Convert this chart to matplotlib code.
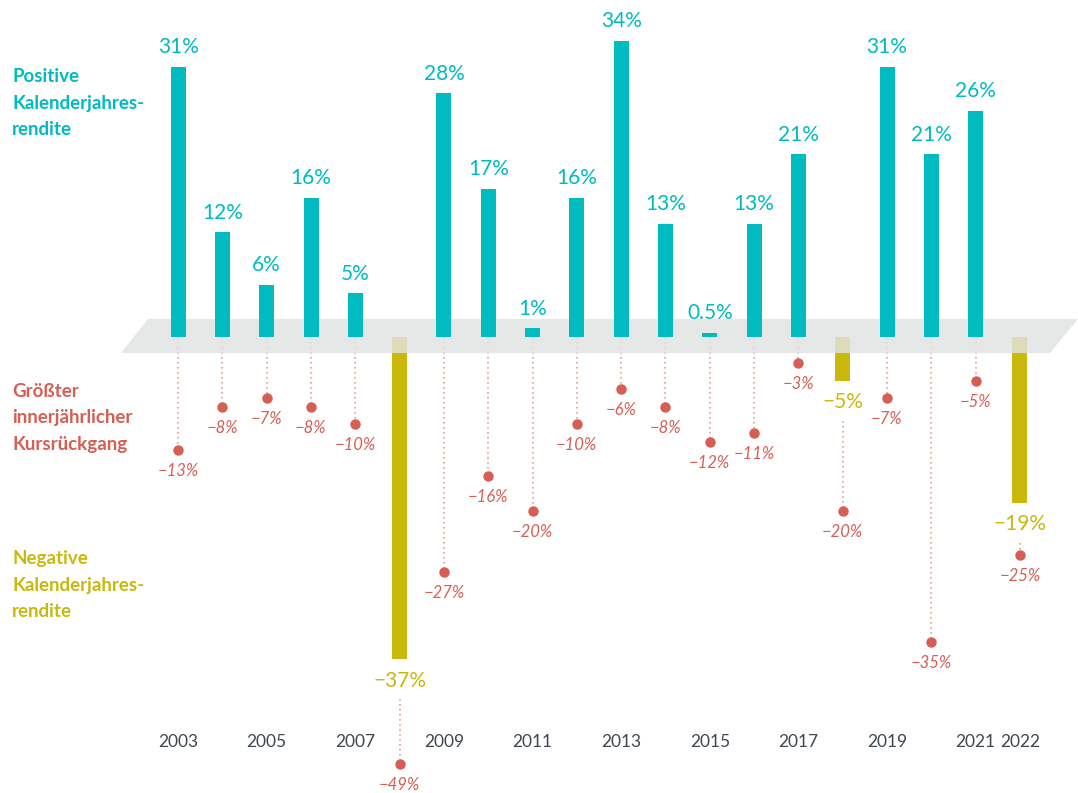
import matplotlib.pyplot as plt
from matplotlib.patches import Polygon

years = list(range(2003, 2023))
annual_return = [31, 12, 6, 16, 5, -37, 28, 17, 1, 16, 34, 13, 0.5, 13, 21, -5, 31, 21, 26, -19]
return_labels = ['31%', '12%', '6%', '16%', '5%', '\u221237%', '28%', '17%', '1%', '16%',
                 '34%', '13%', '0.5%', '13%', '21%', '\u22125%', '31%', '21%', '26%', '\u221219%']
max_drawdown = [-13, -8, -7, -8, -10, -49, -27, -16, -20, -10, -6, -8, -12, -11, -3, -20, -7, -35, -5, -25]
year_ticks = [2003, 2005, 2007, 2009, 2011, 2013, 2015, 2017, 2019, 2021, 2022]

teal = '#00BBBF'
olive = '#C8B90C'
red = '#D65F54'
dotted = '#E3A394'
grey_txt = '#3E4752'

plt.rcParams['font.family'] = ['Lato', 'DejaVu Sans']

fig = plt.figure(figsize=(10.78, 7.93), dpi=100)
ax = fig.add_axes([0, 0, 1, 1])
ax.set_xlim(1998.98, 2023.31)
ax.set_ylim(-52.35, 38.69)
ax.axis('off')

# grey band for the zero line
band = Polygon([(2002.32, 2.07), (2023.31, 2.07), (2022.68, -1.84), (2001.71, -1.84)],
               closed=True, facecolor='#E1E3E2', edgecolor='none', alpha=0.82, zorder=2)
ax.add_patch(band)

for yr, r, lab, dd in zip(years, annual_return, return_labels, max_drawdown):
    if r >= 0:
        ax.bar(yr, r, width=0.34, color=teal, zorder=3)
        ax.text(yr, r + 1.1, lab, ha='center', va='bottom', color=teal, fontsize=15)
        line_start = 0
    else:
        ax.bar(yr, r, width=0.34, color=olive, zorder=1)
        ax.text(yr, r - 1.3, lab, ha='center', va='top', color=olive, fontsize=15)
        line_start = r - 4.6
    ax.plot([yr, yr], [line_start, dd], color=dotted, lw=1.2, ls=(0, (1, 2)), zorder=1)
    ax.plot(yr, dd, 'o', color=red, ms=6.5, zorder=4)
    ax.text(yr, dd - 1.5, '\u2212%d%%' % abs(dd), ha='center', va='top', color=red,
            fontsize=12, style='italic')

for yr in year_ticks:
    ax.text(yr, -46.5, str(yr), ha='center', va='center', color=grey_txt, fontsize=12.5)

side = [('Positive\nKalenderjahres-\nrendite', teal, 103),
        ('Größter\ninnerjährlicher\nKursrückgang', red, 418),
        ('Negative\nKalenderjahres-\nrendite', olive, 585)]
for txt, col, ypx in side:
    ax.text(12 / 1078, 1 - ypx / 793, txt, transform=ax.transAxes, ha='left', va='center',
            color=col, fontsize=13.5, fontweight='bold', linespacing=1.7)

fig.savefig('out.png', dpi=100)
